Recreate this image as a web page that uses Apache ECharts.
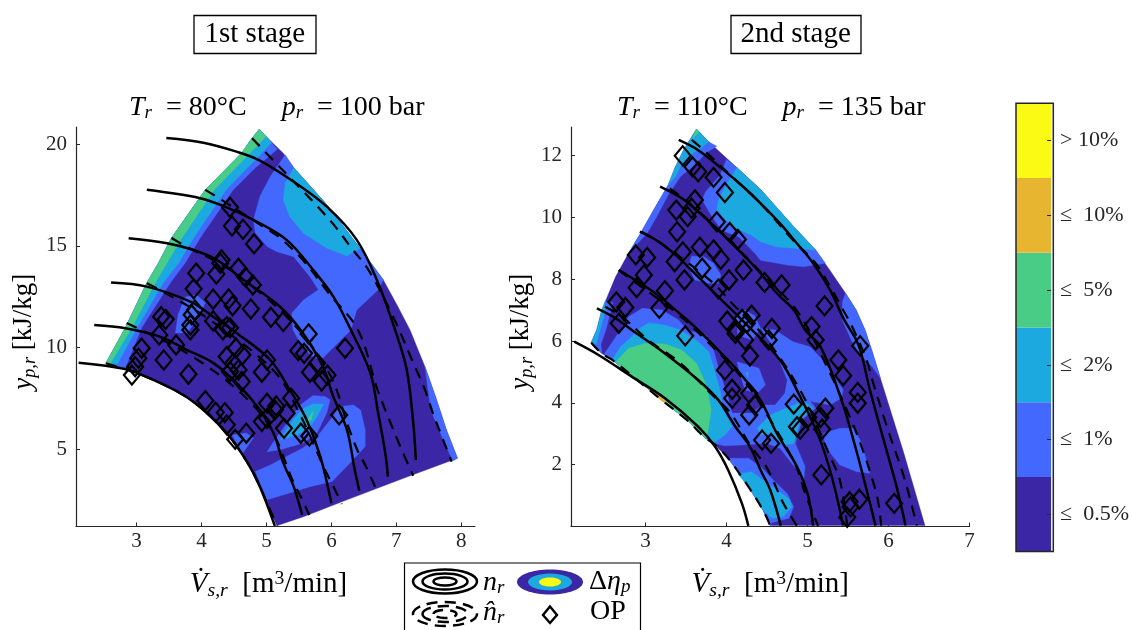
<!DOCTYPE html>
<html><head><meta charset="utf-8">
<style>html,body{margin:0;padding:0;background:#fff}#c{width:1132px;height:630px}</style>
<script src="https://cdn.jsdelivr.net/npm/echarts@6/dist/echarts.min.js"></script></head>
<body><div id="c"></div>
<script>
// ---------- colour classes ----------
const DARK='#3b27a6', MED='#4268fd', CYAN='#1ba9df', GREEN='#48cc86', ORANGE='#e8b530', YELLOW='#fafa14';
const colorbarLabels=['≤  0.5%','≤  1%','≤  2%','≤  5%','≤  10%','> 10%'];
const colorbarColors=[DARK,MED,CYAN,GREEN,ORANGE,YELLOW];

// ---------- 1st stage: contour regions (V, y) ----------
const leftEnvelope=[[2.53,9.23],[2.83,10.97],[3.16,13.18],[3.34,14.16],[3.54,15.39],[4.06,17.76],[4.62,19.57],[4.76,20.21],[4.89,20.74],[4.995,20.38],[5.26,19.56],[5.42,18.85],[5.93,17.02],[6.18,15.98],[6.44,14.89],[6.80,13.33],[7.01,12.10],[7.21,10.87],[7.44,9.06],[7.61,7.51],[7.77,5.95],[7.94,4.56],[7.11,3.57],[6.24,2.51],[5.57,1.68],[5.16,1.24],[4.90,3.16],[4.70,4.39],[4.39,5.79],[4.03,6.93],[3.72,7.67],[3.26,8.41],[2.83,8.94]];
const leftEdge=[[2.53,9.23],[2.83,10.97],[3.16,13.18],[3.34,14.16],[3.54,15.39],[4.06,17.76],[4.62,19.57],[4.76,20.21],[4.89,20.74]];
const leftStripMed=[[4.995,20.38],[5.08,20.08],[5.17,19.76],[4.83,18.84],[4.49,17.76],[3.98,15.39],[3.75,14.16],[3.52,13.18],[3.08,10.97],[2.83,9.0]];
const leftStripCyan=[[4.995,20.38],[5.08,20.08],[4.93,19.57],[4.38,17.76],[3.88,15.39],[3.65,14.16],[3.41,13.18],[3.01,10.97],[2.70,9.15]];
const leftStripGreen=[[4.995,20.38],[4.75,19.57],[4.20,17.76],[3.70,15.39],[3.47,14.16],[3.29,13.18],[2.93,10.97],[2.60,9.22]];
const leftBigMed=[[5.29,19.48],[5.42,18.85],[5.93,17.02],[6.18,15.98],[6.44,14.89],[6.80,13.33],[6.72,12.84],[6.39,11.85],[6.30,10.87],[5.87,9.49],[5.72,9.49],[5.52,10.23],[5.41,10.87],[5.39,11.69],[5.57,12.34],[5.80,12.84],[5.67,13.49],[5.42,14.47],[5.16,14.72],[5.01,14.97],[4.83,15.64],[4.80,16.28],[4.90,17.43],[5.06,18.41]];
const leftBigCyan=[[5.42,18.85],[5.93,17.02],[6.18,15.98],[6.44,14.89],[6.24,14.51],[5.93,14.89],[5.57,15.62],[5.36,16.44],[5.26,17.26],[5.29,18.08]];
const leftSmallMed=[[3.75,12.49],[3.93,12.59],[4.06,12.20],[3.93,11.36],[3.78,10.72],[3.60,10.72],[3.64,11.61]];
const leftLowMed=[[5.01,4.88],[5.13,5.46],[5.52,7.18],[5.72,7.64],[5.90,7.59],[5.98,7.43],[5.93,6.79],[5.78,5.80],[5.57,5.31],[5.21,4.97]];
const leftLowCyan=[[5.21,5.46],[5.39,6.36],[5.57,7.02],[5.72,7.23],[5.88,7.23],[5.78,6.60],[5.67,6.11],[5.47,5.70]];
const leftLowGreen=[[5.63,6.44],[5.72,6.88],[5.69,6.44]];
const leftBandMed=[[4.83,3.90],[5.06,4.23],[5.56,5.06],[5.78,5.62],[5.98,6.44],[6.13,7.10],[6.34,7.18],[6.45,6.93],[6.52,5.95],[6.52,5.13],[6.29,4.33],[6.01,3.41],[5.67,3.16],[5.36,2.85],[5.01,2.51]];
const leftEdgeMed=[[4.47,5.70],[4.69,5.80],[4.80,5.56],[4.64,4.82],[4.56,5.21]];
const leftRimMed=[[7.44,9.06],[7.61,7.51],[7.77,5.95],[7.94,4.56],[7.87,4.42],[7.72,5.46],[7.53,6.93]];

// ---------- 1st stage: speed lines ----------
const leftSolid1=[[3.46,20.31],[4.03,20.08],[4.54,19.64],[4.90,19.20],[5.42,18.16],[5.93,16.93],[6.39,15.30],[6.70,13.33],[6.98,10.87],[7.16,8.90],[7.26,6.28],[7.30,4.47]];
const leftSolid2=[[3.16,17.76],[3.98,17.35],[4.39,16.90],[4.80,16.28],[5.31,15.30],[5.72,13.82],[6.03,12.51],[6.30,10.87],[6.60,8.74],[6.72,6.77],[6.83,4.80],[6.87,3.65]];
const leftSolid3=[[2.88,15.38],[3.47,15.13],[3.88,14.80],[4.24,14.31],[4.65,13.33],[5.21,12.01],[5.56,10.72],[5.87,9.06],[6.03,7.59],[6.24,5.95],[6.36,3.98],[6.43,2.96]];
const leftSolid4=[[2.61,13.20],[3.16,13.00],[3.83,12.26],[4.18,11.52],[4.54,10.72],[5.06,9.39],[5.36,7.92],[5.62,6.44],[5.83,4.64],[6.00,2.34]];
const leftSolid5=[[2.35,11.11],[2.83,10.95],[3.36,10.54],[3.78,9.88],[4.18,9.25],[4.54,8.26],[4.90,6.93],[5.11,5.79],[5.26,4.33],[5.42,3.16],[5.55,1.77]];
const leftSolid6=[[2.11,9.26],[2.83,8.94],[3.26,8.41],[3.72,7.67],[4.03,6.93],[4.39,5.79],[4.70,4.39],[4.90,3.16],[5.13,1.23]];
const leftDash1=[[4.78,20.30],[5.06,19.36],[5.52,17.84],[5.79,16.93],[6.06,15.95],[6.31,14.89],[6.57,13.82],[6.95,11.52],[7.26,9.25],[7.44,7.92],[7.56,6.79],[7.72,5.46],[7.85,4.39]];
const leftDash2=[[4.06,17.76],[4.27,17.35],[4.95,15.95],[5.21,15.39],[5.56,14.31],[5.98,12.59],[6.41,10.87],[6.70,8.02],[6.85,6.77],[7.06,5.13],[7.26,3.70]];
const leftDash3=[[3.54,15.39],[3.75,15.0],[4.44,13.82],[5.36,11.36],[5.98,8.65],[6.26,6.11],[6.41,4.88],[6.52,4.23],[6.69,3.03]];
const leftDash4=[[3.16,13.17],[3.36,12.84],[4.13,11.36],[5.13,8.80],[5.52,6.69],[5.88,4.14],[6.08,2.85],[6.16,2.31]];
const leftDash5=[[2.85,11.21],[3.07,10.87],[3.82,9.64],[4.59,7.82],[5.06,6.05],[5.42,3.34],[5.52,2.72],[5.66,1.77]];
const leftDash6=[[2.53,9.23],[2.83,8.94],[3.26,8.41],[3.72,7.67],[4.03,6.93],[4.39,5.79],[4.70,4.39],[4.90,3.16],[5.16,1.24]];

// ---------- 1st stage: operating points ----------
const leftOP=[[4.44,16.90],[4.47,15.98],[4.64,15.82],[4.81,15.10],[4.31,14.31],[4.29,14.15],[4.57,13.90],[4.68,13.46],[4.79,13.08],[3.92,13.66],[4.23,13.62],[3.88,12.89],[4.18,12.38],[4.42,12.39],[4.48,12.06],[4.76,11.90],[5.07,11.49],[5.26,11.28],[3.90,11.85],[3.85,11.61],[3.38,11.52],[3.45,11.39],[4.18,11.31],[3.83,11.11],[4.39,11.03],[4.44,10.97],[3.35,10.62],[3.83,10.87],[3.61,10.13],[3.08,9.97],[3.03,9.48],[2.98,9.06],[2.93,8.65],[3.42,9.39],[3.80,8.69],[4.06,7.39],[4.22,6.82],[4.36,6.80],[4.39,6.20],[4.52,5.49],[4.69,5.79],[4.39,9.56],[4.53,9.97],[4.63,9.64],[4.49,9.23],[4.57,8.90],[4.62,8.33],[4.44,8.82],[5.01,9.39],[4.93,8.79],[5.01,7.26],[5.13,6.93],[5.01,6.52],[4.93,6.36],[4.33,10.87],[5.65,10.67],[6.21,9.97],[5.49,9.85],[5.58,9.72],[5.78,9.23],[5.67,8.79],[5.94,8.65],[5.85,8.36],[5.38,7.51],[5.15,7.13],[5.31,6.77],[6.12,6.69],[5.27,6.03],[5.53,5.79],[5.66,5.65]];

// ---------- 2nd stage: contour regions ----------
const rightEnvelope=[[2.33,5.95],[2.40,6.38],[2.46,7.01],[2.63,8.08],[2.79,8.84],[2.95,9.54],[3.10,10.24],[3.28,11.05],[3.37,11.64],[3.47,12.18],[3.63,12.86],[3.78,12.45],[4.13,11.61],[4.42,10.91],[4.83,9.70],[5.10,8.95],[5.28,8.28],[5.47,7.55],[5.60,7.01],[5.71,6.36],[5.80,5.65],[5.90,4.80],[6.19,2.37],[6.45,0.03],[4.54,0.03],[4.45,0.53],[4.27,1.29],[4.02,2.21],[3.84,2.69],[3.74,2.86],[3.51,3.45],[3.20,4.09],[2.87,4.80],[2.59,5.39],[2.46,5.60]];
const rightTopMed=[[2.79,8.84],[2.95,9.54],[3.10,10.24],[3.28,11.05],[3.37,11.64],[3.47,12.18],[3.63,12.86],[3.78,12.45],[3.88,12.31],[3.74,12.08],[3.63,11.75],[3.43,11.32],[3.28,10.73],[3.14,10.03],[3.02,9.49]];
const rightTopCyan=[[3.28,11.05],[3.37,11.64],[3.47,12.18],[3.63,12.86],[3.78,12.45],[3.68,12.24],[3.55,12.02],[3.45,11.75],[3.37,11.32]];
const rightTopGreen=[[3.63,12.86],[3.66,12.77],[3.58,12.56]];
const rightBigMed=[[4.00,11.88],[4.13,11.61],[4.42,10.91],[4.83,9.70],[5.10,8.95],[5.22,8.52],[4.95,8.41],[4.75,8.46],[4.42,8.62],[4.35,8.84],[4.15,9.38],[3.94,9.59],[3.82,10.03],[3.70,10.57],[3.74,10.83],[3.92,11.37]];
const rightBigCyan=[[4.13,11.61],[4.42,10.91],[4.83,9.70],[5.10,8.95],[4.87,9.00],[4.62,9.05],[4.42,9.22],[4.31,9.43],[4.07,9.70],[3.88,10.24],[3.90,10.57],[4.01,11.12]];
const rightRimMed=[[5.47,7.55],[5.60,7.01],[5.71,6.36],[5.80,5.65],[5.90,4.80],[5.80,5.17],[5.65,5.55],[5.54,6.04],[5.43,6.68],[5.43,7.27]];
const rightMidMed=[[3.53,8.41],[3.57,8.75],[3.72,8.73],[3.84,8.52],[3.93,8.14],[3.90,7.87],[3.78,7.87],[3.61,7.98]];
const rightLowMed=[[2.49,5.58],[2.69,6.36],[2.79,6.79],[2.96,7.06],[3.20,7.01],[3.41,6.68],[3.51,6.36],[3.74,6.20],[3.84,5.71],[3.92,4.96],[4.01,4.26],[4.07,3.67],[4.31,3.67],[4.44,3.93],[4.60,3.93],[4.72,4.31],[4.87,4.20],[5.03,4.09],[5.10,3.83],[4.93,3.45],[4.85,2.69],[4.97,1.94],[4.95,1.40],[4.87,1.83],[4.66,2.53],[4.50,2.69],[4.19,2.64],[3.98,2.61],[3.84,2.69],[3.74,2.86],[3.51,3.45],[3.20,4.09],[2.87,4.80],[2.59,5.39]];
const rightCornerMed=[[2.50,7.27],[2.40,6.38],[2.33,5.95],[2.46,5.60],[2.45,5.90],[2.51,6.36],[2.56,6.85],[2.60,7.25]];
const rightCornerCyan=[[2.50,7.27],[2.46,7.01],[2.40,6.38],[2.33,5.95],[2.39,5.90],[2.44,6.36],[2.50,6.95]];
const rightUpperMed=[[4.42,6.42],[4.60,6.36],[4.82,5.98],[5.03,5.82],[5.19,5.39],[5.44,4.42],[5.42,4.16],[5.28,3.93],[5.08,4.03],[4.87,4.20],[4.72,4.31],[4.75,4.74],[4.70,5.06],[4.58,5.82]];
const rightLobeMed=[[5.20,3.02],[5.40,3.18],[5.57,3.18],[5.67,2.69],[5.77,1.72],[5.61,1.77],[5.40,1.99],[5.22,2.58]];
const rightBlobA=[[4.13,5.33],[4.40,5.12],[4.48,4.58],[4.38,4.31],[4.23,4.42],[4.17,4.90]];
const rightBlobB=[[4.12,6.75],[4.23,7.01],[4.35,6.81],[4.42,6.42],[4.32,6.04],[4.14,6.20]];
const rightBlobCyan=[[4.24,4.99],[4.27,4.99],[4.26,4.82]];
const rightMidCyan=[[4.38,3.19],[4.54,3.61],[4.95,4.07],[5.07,3.83],[4.91,3.45],[4.83,2.69],[4.70,2.64],[4.54,3.02],[4.42,2.96]];
const rightFootMed=[[4.02,2.21],[4.27,2.21],[4.42,1.94],[4.58,1.50],[4.75,1.07],[4.83,0.64],[4.77,0.27],[4.56,0.12],[4.54,0.03],[4.45,0.53],[4.27,1.29]];
const rightFootCyan=[[4.14,1.70],[4.31,1.77],[4.42,1.56],[4.62,1.18],[4.77,0.91],[4.81,0.64],[4.70,0.32],[4.56,0.27],[4.45,0.53],[4.27,1.29]];
const rightInnerCyan=[[2.59,5.39],[2.69,5.82],[2.83,6.14],[2.89,6.36],[3.04,6.59],[3.24,6.52],[3.43,6.36],[3.65,5.98],[3.78,5.66],[3.84,5.17],[3.92,4.42],[3.96,3.77],[4.07,3.23],[3.98,2.96],[3.84,2.69],[3.74,2.86],[3.51,3.45],[3.20,4.09],[2.87,4.80]];
const rightInnerGreen=[[2.63,5.32],[2.79,5.77],[3.00,5.93],[3.24,5.91],[3.45,5.71],[3.63,5.28],[3.76,4.52],[3.81,3.77],[3.76,2.89],[3.74,2.86],[3.51,3.45],[3.20,4.09],[2.87,4.80]];
const rightInnerOrange=[[3.04,4.47],[3.15,4.38],[3.28,3.98],[3.20,4.07],[3.05,4.40]];

// ---------- 2nd stage: speed lines ----------
const rightSolid1=[[3.41,12.51],[3.65,12.18],[3.94,11.59],[4.23,10.94],[4.42,10.46],[4.66,9.81],[4.87,9.16],[5.07,8.52],[5.28,7.65],[5.44,6.75],[5.63,5.87],[5.77,4.42],[5.94,2.80],[6.10,1.29],[6.21,0.03]];
const rightSolid2=[[3.18,11.00],[3.45,10.62],[3.65,10.19],[3.94,9.49],[4.23,8.73],[4.42,8.20],[4.62,7.55],[4.83,7.01],[4.97,6.36],[5.16,5.82],[5.42,4.09],[5.59,2.58],[5.73,1.18],[5.84,0.03]];
const rightSolid3=[[2.93,9.54],[3.16,9.22],[3.37,8.79],[3.65,8.08],[3.94,7.33],[4.23,6.58],[4.66,5.39],[4.91,4.20],[5.14,2.91],[5.30,1.61],[5.44,0.03]];
const rightSolid4=[[2.67,8.30],[2.87,7.98],[3.12,7.55],[3.37,7.01],[3.63,6.41],[3.98,5.49],[4.15,5.01],[4.42,4.09],[4.62,3.02],[4.87,1.94],[5.00,1.07],[5.07,0.03]];
const rightSolid5=[[2.40,7.06],[2.63,6.74],[2.83,6.36],[3.24,5.60],[3.65,4.74],[3.90,4.09],[4.11,3.23],[4.29,2.58],[4.42,1.83],[4.54,1.18],[4.67,0.03]];
const rightSolid6=[[2.12,5.98],[2.42,5.55],[2.83,4.85],[3.24,4.15],[3.65,3.23],[3.86,2.58],[4.02,1.83],[4.19,0.75],[4.27,0.02]];
const rightDash1=[[3.57,12.51],[3.72,12.18],[4.07,11.32],[4.44,10.40],[4.82,9.27],[5.10,8.52],[5.28,7.76],[5.44,7.01],[5.56,6.42],[5.73,5.39],[5.80,4.74],[5.98,3.23],[6.19,1.61],[6.35,0.03]];
const rightDash2=[[3.30,10.94],[3.45,10.65],[3.82,9.81],[4.48,8.08],[4.89,6.91],[5.24,5.17],[5.53,3.50],[5.69,2.42],[5.86,0.96],[5.91,0.03]];
const rightDash3=[[2.95,9.54],[3.16,9.22],[3.82,7.92],[4.07,7.22],[4.48,6.10],[4.93,4.31],[5.28,2.26],[5.40,1.50],[5.49,0.03]];
const rightDash4=[[2.67,8.30],[2.87,7.91],[3.37,6.94],[3.68,6.20],[4.19,4.81],[4.54,3.45],[4.85,2.00],[4.97,1.08],[5.13,0.02]];
const rightDash5=[[2.50,7.11],[2.71,6.79],[3.03,6.04],[3.43,5.29],[3.80,4.32],[4.05,3.67],[4.29,2.64],[4.50,1.89],[4.70,0.76],[4.87,0.02]];
const rightDash6=[[2.33,5.95],[2.46,5.60],[2.59,5.39],[2.87,4.80],[3.20,4.09],[3.51,3.45],[3.74,2.86],[3.84,2.69],[4.02,2.21],[4.27,1.29],[4.45,0.53],[4.54,0.03]];

// ---------- 2nd stage: operating points ----------
const rightOP=[[3.46,12.00],[3.58,11.64],[3.65,11.48],[3.84,11.30],[3.98,10.81],[3.61,10.57],[3.38,10.24],[3.57,10.30],[3.52,10.03],[3.88,9.86],[4.04,9.52],[4.14,9.29],[3.39,9.54],[3.46,8.89],[3.67,9.04],[3.84,8.95],[3.93,8.65],[4.21,8.30],[4.47,7.90],[2.88,8.79],[3.02,8.71],[3.36,8.57],[3.70,8.36],[2.98,8.14],[3.48,7.98],[2.89,7.73],[4.03,7.98],[3.90,7.69],[3.24,7.63],[3.17,7.06],[2.64,7.27],[2.75,7.09],[2.67,6.58],[4.01,6.65],[4.19,6.71],[4.31,6.84],[4.25,6.58],[4.56,6.41],[4.11,6.38],[3.49,6.17],[4.68,7.82],[5.21,7.14],[5.05,6.47],[4.11,6.25],[4.23,6.04],[4.29,5.52],[3.98,5.06],[4.07,4.44],[4.07,4.15],[4.28,4.31],[4.35,3.93],[4.28,3.61],[4.44,2.80],[4.55,2.69],[4.52,6.04],[5.10,6.04],[5.65,5.85],[5.38,5.39],[5.44,4.88],[5.62,4.34],[5.62,3.99],[4.83,3.96],[5.22,3.83],[5.01,3.53],[5.16,3.53],[4.87,3.23],[4.91,3.15],[5.18,3.15],[5.17,1.67],[5.52,0.80],[5.64,0.88],[5.53,0.64],[5.49,0.30],[6.07,0.75]];

// ---------- axes ----------
const leftXTicks=[3,4,5,6,7,8], leftYTicks=[5,10,15,20];
const rightXTicks=[3,4,5,6,7], rightYTicks=[2,4,6,8,10,12];

// ---------- drawing ----------
const SERIF='"Liberation Serif","DejaVu Serif",serif', INK='#262626';
const mathRich=(fs,col)=>({
  i:{fontFamily:SERIF,fontStyle:'italic',fontSize:fs,color:col},
  s:{fontFamily:SERIF,fontStyle:'italic',fontSize:fs*0.68,color:col,padding:[fs*0.42,0,0,0]},
  u:{fontFamily:SERIF,fontSize:fs*0.68,color:col,padding:[0,0,fs*0.42,0]}
});
function poly(pts,color,g){
  return {type:'custom',xAxisIndex:g,yAxisIndex:g,coordinateSystem:'cartesian2d',clip:true,silent:true,z:1,
    data:pts,encode:{x:0,y:1},
    renderItem:(p,api)=>p.dataIndex?null:({type:'polygon',shape:{points:pts.map(q=>api.coord(q))},style:{fill:color,stroke:color,lineWidth:0.4}})};
}
function curve(pts,g,dashed){
  return {type:'line',xAxisIndex:g,yAxisIndex:g,data:pts,symbol:'none',smooth:0.35,silent:true,z:3,animation:false,clip:true,
    lineStyle:{color:'#000',width:dashed?2.2:2.5,type:dashed?[11,8]:'solid'}};
}
function ops(pts,g){
  return {type:'scatter',xAxisIndex:g,yAxisIndex:g,data:pts,symbol:'diamond',symbolSize:[16,19],silent:true,z:4,clip:false,
    itemStyle:{color:'rgba(0,0,0,0)',borderColor:'#000',borderWidth:2.2,opacity:1}};
}
const leftLayers=[[leftEnvelope,DARK],[leftEdge.concat(leftStripMed),MED],[leftEdge.concat(leftStripCyan),CYAN],[leftEdge.concat(leftStripGreen),GREEN],[leftBigMed,MED],[leftBigCyan,CYAN],[leftSmallMed,MED],[leftBandMed,MED],[leftLowMed,MED],[leftLowCyan,CYAN],[leftLowGreen,GREEN],[leftEdgeMed,MED],[leftRimMed,MED]];
const rightLayers=[[rightEnvelope,DARK],[rightTopMed,MED],[rightTopCyan,CYAN],[rightTopGreen,GREEN],[rightBigMed,MED],[rightBigCyan,CYAN],[rightRimMed,MED],[rightMidMed,MED],[rightLowMed,MED],[rightCornerMed,MED],[rightCornerCyan,CYAN],[rightUpperMed,MED],[rightLobeMed,MED],[rightBlobA,MED],[rightBlobB,MED],[rightBlobCyan,CYAN],[rightMidCyan,CYAN],[rightFootMed,MED],[rightFootCyan,CYAN],[rightInnerCyan,CYAN],[rightInnerGreen,GREEN],[rightInnerOrange,ORANGE]];
const leftSolids=[leftSolid1,leftSolid2,leftSolid3,leftSolid4,leftSolid5,leftSolid6], leftDashes=[leftDash1,leftDash2,leftDash3,leftDash4,leftDash5,leftDash6];
const rightSolids=[rightSolid1,rightSolid2,rightSolid3,rightSolid4,rightSolid5,rightSolid6], rightDashes=[rightDash1,rightDash2,rightDash3,rightDash4,rightDash5,rightDash6];

function valAxis(min,max,ticks,isY,extra){
  return Object.assign({type:'value',min,max,splitLine:{show:false},
    axisLine:{show:true,onZero:false,lineStyle:{color:INK,width:1.2}},
    axisTick:{show:true,inside:true,length:4,customValues:ticks,lineStyle:{color:INK,width:1}},
    axisLabel:{customValues:ticks,fontFamily:SERIF,fontSize:21,color:INK,margin:isY?9:4}},extra);
}
const xName='{i|V̇}{s|s,r}  [m{u|3}/min]', yName='{i|y}{s|p,r} [kJ/kg]';
const xN=pad=>({name:xName,nameLocation:'middle',nameGap:42,nameTextStyle:{fontFamily:SERIF,fontSize:29,color:'#000',padding:pad,rich:mathRich(29,'#000')}});
const yN=pad=>({name:yName,nameLocation:'middle',nameRotate:90,nameTextStyle:{fontFamily:SERIF,fontSize:27,color:'#000',padding:pad,rich:mathRich(27,'#000')}});
const stageTitle=(t,l,pad)=>({text:t,left:l,top:15,borderColor:'#000',borderWidth:1.3,padding:pad,textStyle:{fontFamily:SERIF,fontWeight:'normal',fontSize:29,color:'#000'}});
const condTitle=(t,l)=>({text:t,left:l,top:92,padding:0,textStyle:{fontFamily:SERIF,fontWeight:'normal',fontSize:28,color:'#000',rich:mathRich(28,'#000')}});

const legendG=[
  {type:'rect',shape:{x:404.5,y:563,width:236,height:90},style:{fill:'#fff',stroke:'#000',lineWidth:1.2}},
  ...[[32,12],[22.5,8],[11.5,4]].map(r=>({type:'ellipse',shape:{cx:445,cy:581.5,rx:r[0],ry:r[1]},style:{fill:'none',stroke:'#000',lineWidth:2.5}})),
  ...[[32,12],[22.5,8],[11.5,4]].map(r=>({type:'ellipse',shape:{cx:445,cy:614,rx:r[0],ry:r[1]},style:{fill:'none',stroke:'#000',lineWidth:2.5,lineDash:[11,7]}})),
  {type:'ellipse',shape:{cx:550,cy:582,rx:33,ry:12.5},style:{fill:DARK}},
  {type:'ellipse',shape:{cx:550,cy:582,rx:22,ry:8.5},style:{fill:CYAN}},
  {type:'ellipse',shape:{cx:550,cy:582,rx:11,ry:4.5},style:{fill:YELLOW}},
  {type:'polygon',shape:{points:[[550,606.5],[557,615],[550,623],[543,615]]},style:{fill:'none',stroke:'#000',lineWidth:2.4}},
  {type:'text',x:483,y:567,style:{text:'{i|n}{s|r}',rich:mathRich(28,'#000'),fill:'#000',fontFamily:SERIF,fontSize:28}},
  {type:'text',x:483,y:597,style:{text:'{i|n̂}{s|r}',rich:mathRich(28,'#000'),fill:'#000',fontFamily:SERIF,fontSize:28}},
  {type:'text',x:589,y:566,style:{text:'Δ{i|η}{s|p}',rich:mathRich(28,'#000'),fill:'#000',fontFamily:SERIF,fontSize:28}},
  {type:'text',x:590,y:598,style:{text:'OP',fill:'#000',fontFamily:SERIF,fontSize:28}},
  {type:'rect',shape:{x:1016,y:103.3,width:37.3,height:448.3},style:{fill:'none',stroke:INK,lineWidth:1.5},z:20}
];

const option={
  animation:false,backgroundColor:'#fff',
  title:[
    stageTitle('1st stage',193.5,[5,11,5,11]),
    stageTitle('2nd stage',730.5,[5,10,5,10]),
    condTitle('{i|T}{s|r}  = 80°C     {i|p}{s|r}  = 100 bar',129),
    condTitle('{i|T}{s|r}  = 110°C     {i|p}{s|r}  = 135 bar',617)
  ],
  grid:[
    {left:76,top:127,width:399,height:399.5,containLabel:false},
    {left:571,top:127,width:398.5,height:399.5,containLabel:false},
    {left:1016,top:103.3,width:37.3,height:448.3,containLabel:false}
  ],
  xAxis:[
    valAxis(2.07,8.21,leftXTicks,false,Object.assign({gridIndex:0},xN([0,14,0,0]))),
    valAxis(2.08,7,rightXTicks,false,Object.assign({gridIndex:1},xN(0))),
    {type:'value',gridIndex:2,min:0,max:1,show:false}
  ],
  yAxis:[
    valAxis(1.2,20.85,leftYTicks,true,Object.assign({gridIndex:0,nameGap:37},yN([0,10,0,0]))),
    valAxis(0,12.93,rightYTicks,true,Object.assign({gridIndex:1,nameGap:35},yN([0,10,0,0]))),
    {type:'category',gridIndex:2,position:'right',data:colorbarLabels,
     axisLine:{show:false,onZero:false},axisTick:{show:true,inside:true,length:4,alignWithLabel:true,lineStyle:{color:INK}},
     axisLabel:{fontFamily:SERIF,fontSize:22,color:INK,margin:9},z:5}
  ],
  series:[
    ...leftLayers.map(l=>poly(l[0],l[1],0)),
    ...rightLayers.map(l=>poly(l[0],l[1],1)),
    ...leftSolids.map(c=>curve(c,0,false)),
    ...leftDashes.map(c=>curve(c,0,true)),
    ...rightSolids.map(c=>curve(c,1,false)),
    ...rightDashes.map(c=>curve(c,1,true)),
    ops(leftOP,0),ops(rightOP,1),
    {type:'bar',xAxisIndex:2,yAxisIndex:2,barWidth:'100%',silent:true,z:1,
     data:colorbarLabels.map((n,i)=>({value:1,itemStyle:{color:colorbarColors[i]}}))}
  ],
  graphic:legendG
};
const chart=echarts.init(document.getElementById('c'),null,{renderer:'canvas'});
chart.setOption(option);
</script></body></html>
